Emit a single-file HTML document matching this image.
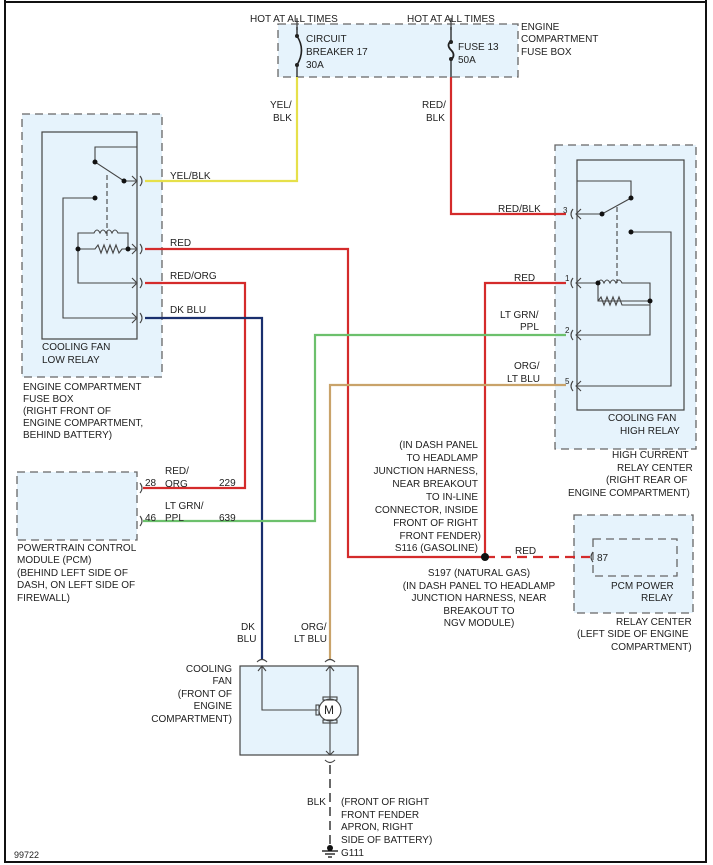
<!DOCTYPE html>
<html><head><meta charset="utf-8"><style>
html,body{margin:0;padding:0;background:#fff}
svg{display:block}
text{font-family:"Liberation Sans",sans-serif;font-size:10px;fill:#222}
</style></head><body>
<svg width="713" height="865" viewBox="0 0 713 865" xmlns="http://www.w3.org/2000/svg">
<rect x="0" y="0" width="713" height="865" fill="#fff"/>
<!-- frame -->
<path d="M5,0 V862 H706 V0" fill="none" stroke="#111" stroke-width="2"/>
<line x1="5" y1="2" x2="706" y2="2" stroke="#111" stroke-width="2"/>

<g stroke="#666" stroke-width="1.3" stroke-dasharray="8,5" fill="#e6f3fc">
<rect x="278" y="24" width="240" height="53"/>
<rect x="22" y="114" width="140" height="263"/>
<rect x="555" y="145" width="141" height="304"/>
<rect x="17" y="472" width="120" height="68"/>
<rect x="574" y="515" width="119" height="98"/>
<rect x="593" y="539" width="84" height="37" fill="none"/>
</g>
<rect x="42" y="132" width="95" height="207" fill="none" stroke="#444" stroke-width="1.2"/>
<rect x="577" y="160" width="107" height="250" fill="none" stroke="#444" stroke-width="1.2"/>
<rect x="240" y="666" width="118" height="89" fill="#e6f3fc" stroke="#444" stroke-width="1.2"/>

<!-- wires -->
<g fill="none" stroke-width="2.2">
<path d="M297,77 V181 H145" stroke="#e6e04a"/>
<path d="M451,77 V214 H566" stroke="#d42b2b"/>
<path d="M145,249 H348 V557 H485 V283 H566" stroke="#d42b2b"/>
<path d="M145,283 H245 V488 H143" stroke="#d42b2b"/>
<path d="M145,318 H262 V660" stroke="#1a2f6e"/>
<path d="M143,521 H315 V335 H566" stroke="#6cc06c"/>
<path d="M330,660 V385 H566" stroke="#c9a36a"/>
<path d="M485,557 H590" stroke="#d42b2b" stroke-dasharray="10,6"/>
<path d="M330,765 V850" stroke="#444" stroke-width="1.6" stroke-dasharray="9,5"/>
<path d="M297,18 V30 M451,18 V30" stroke="#444" stroke-width="1.3"/>
</g>
<circle cx="485" cy="557" r="4" fill="#111"/>

<!-- fuse box symbols -->
<g fill="none" stroke="#222" stroke-width="1.3">
<path d="M297,27 V36 M297,65 V77"/>
<path d="M297,36 Q306,50 297,65" stroke-width="1.6"/>
<path d="M451,27 V41 M451,60 V77"/>
<path d="M451,41 Q446,45 451,50 Q456,55 451,60" stroke-width="1.8"/>
</g>
<g fill="#222"><circle cx="297" cy="36" r="2"/><circle cx="297" cy="65" r="2"/><circle cx="451" cy="42" r="2"/><circle cx="451" cy="59" r="2"/></g>

<!-- low relay internals -->
<g fill="none" stroke="#444" stroke-width="1.1">
<path d="M137,147 H95 V162 L124,181 H137"/>
<path d="M107,175 V240" stroke-dasharray="5,3"/>
<path d="M95,198 H63 V318 H136"/>
<path d="M78,249 V283 H136"/>
<path d="M78,249 H95 l3,-4 3,8 3,-8 3,8 3,-8 3,8 3,-8 3,8 3,-4 H136"/>
<path d="M78,249 V233 H94 q3,-6 6,0 q3,-6 6,0 q3,-6 6,0 q3,-6 6,0 H128 V249"/>
<path d="M132,176 l5,5 -5,5 M132,244 l5,5 -5,5 M132,278 l5,5 -5,5 M132,313 l5,5 -5,5"/>
<path d="M140,176 q4,5 0,10 M140,244 q4,5 0,10 M140,278 q4,5 0,10 M140,313 q4,5 0,10"/>
</g>
<g fill="#111"><circle cx="95" cy="162" r="2.5"/><circle cx="124" cy="181" r="2.5"/><circle cx="95" cy="198" r="2.5"/><circle cx="78" cy="249" r="2.5"/><circle cx="128" cy="249" r="2.5"/></g>

<!-- high relay internals -->
<g fill="none" stroke="#444" stroke-width="1.1">
<path d="M577,181 H631 V198 L602,214 H577"/>
<path d="M617,207 V283" stroke-dasharray="5,3"/>
<path d="M631,232 H671 V386 H577"/>
<path d="M577,283 H598 V301 H650 V335 H577"/>
<path d="M598,283 q3,-6 6,0 q3,-6 6,0 q3,-6 6,0 q3,-6 6,0 H650 V301"/>
<path d="M598,301 l3,-4 3,8 3,-8 3,8 3,-8 3,8 3,-8 3,8 H650"/>
<path d="M581,209 l-5,5 5,5 M581,278 l-5,5 5,5 M581,330 l-5,5 5,5 M581,381 l-5,5 5,5"/>
<path d="M573,209 q-4,5 0,10 M573,278 q-4,5 0,10 M573,330 q-4,5 0,10 M573,381 q-4,5 0,10 M593,552 q-4,5 0,10"/>
<path d="M140,483 q4,5 0,10 M140,516 q4,5 0,10"/>
</g>
<g fill="#111"><circle cx="631" cy="198" r="2.5"/><circle cx="602" cy="214" r="2.5"/><circle cx="631" cy="232" r="2.5"/><circle cx="598" cy="283" r="2.5"/><circle cx="650" cy="301" r="2.5"/></g>

<!-- fan -->
<g fill="none" stroke="#444" stroke-width="1.1">
<path d="M262,666 V710 H318"/>
<path d="M330,666 V699 M330,721 V755"/>
<path d="M258,671 l4,-5 4,5 M326,671 l4,-5 4,5 M326,751 l4,4 4,-4"/>
<path d="M257,662 q5,-5 10,0 M325,662 q5,-5 10,0 M325,760 q5,5 10,0"/>
<circle cx="330" cy="710" r="11" fill="#fff"/>
<rect x="323" y="697" width="14" height="3"/><rect x="323" y="720" width="14" height="3"/><rect x="316" y="705" width="3" height="10"/>
</g>
<text x="324" y="714" style="font-size:12px">M</text>
<g stroke="#111" stroke-width="1.3"><line x1="322" y1="851" x2="338" y2="851"/><line x1="325" y1="854" x2="335" y2="854"/><line x1="328" y1="857" x2="332" y2="857"/></g>
<circle cx="330" cy="848" r="3" fill="#111"/>

<!-- text -->
<text x="250" y="22">HOT AT ALL TIMES</text>
<text x="407" y="22">HOT AT ALL TIMES</text>
<text x="306" y="42">CIRCUIT</text><text x="306" y="55">BREAKER 17</text><text x="306" y="68">30A</text>
<text x="458" y="50">FUSE 13</text><text x="458" y="63">50A</text>
<text x="521" y="30">ENGINE</text><text x="521" y="42">COMPARTMENT</text><text x="521" y="55">FUSE BOX</text>
<text x="270" y="108">YEL/</text><text x="273" y="121">BLK</text>
<text x="422" y="108">RED/</text><text x="426" y="121">BLK</text>
<text x="170" y="179">YEL/BLK</text>
<text x="170" y="246">RED</text>
<text x="170" y="279">RED/ORG</text>
<text x="170" y="313">DK BLU</text>
<text x="42" y="350">COOLING FAN</text><text x="42" y="363">LOW RELAY</text>
<text x="23" y="390">ENGINE COMPARTMENT</text><text x="23" y="402">FUSE BOX</text><text x="23" y="414">(RIGHT FRONT OF</text><text x="23" y="426">ENGINE COMPARTMENT,</text><text x="23" y="438">BEHIND BATTERY)</text>
<text x="498" y="212">RED/BLK</text><text x="563" y="213" style="font-size:8px">3</text>
<text x="514" y="281">RED</text><text x="565" y="281" style="font-size:8px">1</text>
<text x="500" y="318">LT GRN/</text><text x="520" y="330">PPL</text><text x="565" y="333" style="font-size:8px">2</text>
<text x="514" y="369">ORG/</text><text x="507" y="382">LT BLU</text><text x="565" y="384" style="font-size:8px">5</text>
<text x="608" y="421">COOLING FAN</text><text x="620" y="434">HIGH RELAY</text>
<text x="612" y="458">HIGH CURRENT</text><text x="617" y="471">RELAY CENTER</text><text x="606" y="483">(RIGHT REAR OF</text><text x="568" y="496">ENGINE COMPARTMENT)</text>
<g text-anchor="end"><text x="478" y="448">(IN DASH PANEL</text><text x="478" y="461">TO HEADLAMP</text><text x="478" y="474">JUNCTION HARNESS,</text><text x="478" y="487">NEAR BREAKOUT</text><text x="478" y="500">TO IN-LINE</text><text x="478" y="513">CONNECTOR, INSIDE</text><text x="478" y="526">FRONT OF RIGHT</text><text x="481" y="539">FRONT FENDER)</text><text x="478" y="551">S116 (GASOLINE)</text></g>
<g text-anchor="middle"><text x="479" y="576">S197 (NATURAL GAS)</text><text x="479" y="589">(IN DASH PANEL TO HEADLAMP</text><text x="479" y="601">JUNCTION HARNESS, NEAR</text><text x="479" y="614">BREAKOUT TO</text><text x="479" y="626">NGV MODULE)</text></g>
<text x="515" y="554">RED</text>
<text x="597" y="561">87</text>
<text x="611" y="589">PCM POWER</text><text x="641" y="601">RELAY</text>
<text x="616" y="625">RELAY CENTER</text><text x="577" y="637">(LEFT SIDE OF ENGINE</text><text x="611" y="650">COMPARTMENT)</text>
<text x="145" y="486">28</text><text x="165" y="474">RED/</text><text x="165" y="487">ORG</text><text x="219" y="486">229</text>
<text x="145" y="521">46</text><text x="165" y="509">LT GRN/</text><text x="165" y="521">PPL</text><text x="219" y="521">639</text>
<text x="17" y="551">POWERTRAIN CONTROL</text><text x="17" y="563">MODULE (PCM)</text><text x="17" y="576">(BEHIND LEFT SIDE OF</text><text x="17" y="588">DASH, ON LEFT SIDE OF</text><text x="17" y="601">FIREWALL)</text>
<text x="241" y="630">DK</text><text x="237" y="642">BLU</text>
<text x="301" y="630">ORG/</text><text x="294" y="642">LT BLU</text>
<g text-anchor="end"><text x="232" y="672">COOLING</text><text x="232" y="684">FAN</text><text x="232" y="697">(FRONT OF</text><text x="232" y="709">ENGINE</text><text x="232" y="722">COMPARTMENT)</text></g>
<text x="307" y="805">BLK</text>
<text x="341" y="805">(FRONT OF RIGHT</text><text x="341" y="818">FRONT FENDER</text><text x="341" y="830">APRON, RIGHT</text><text x="341" y="843">SIDE OF BATTERY)</text>
<text x="341" y="856">G111</text>
<text x="14" y="858" style="font-size:9px">99722</text>
</svg>
</body></html>
